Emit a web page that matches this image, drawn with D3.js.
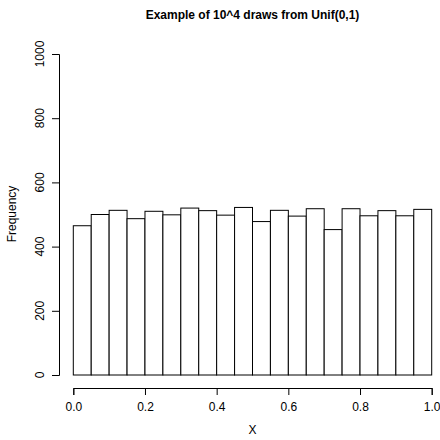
<!DOCTYPE html>
<html>
<head>
<meta charset="utf-8">
<script src="https://cdn.jsdelivr.net/npm/d3@7"></script>
<style>
body { margin: 0; background: #fff; }
svg text { font-family: "Liberation Sans", Arial, sans-serif; fill: #000; }
</style>
</head>
<body>
<svg id="chart" width="440" height="440"></svg>
<script>
// histogram of 10^4 uniform draws, 20 bins of width 0.05
var binStarts = [0, 0.05, 0.1, 0.15, 0.2, 0.25, 0.3, 0.35, 0.4, 0.45,
	0.5, 0.55, 0.6, 0.65, 0.7, 0.75, 0.8, 0.85, 0.9, 0.95];
var counts = [465, 500, 513, 487, 510, 499, 520, 512, 498, 522,
	478, 513, 495, 518, 453, 518, 496, 512, 496, 516];
var xTicks = [0, 0.2, 0.4, 0.6, 0.8, 1.0];
var yTicks = [0, 200, 400, 600, 800, 1000];
var binWidth = 0.05;

var svg = d3.select("#chart");

var x = d3.scaleLinear() // x limits for plot
	.domain([0, 1])
	.range([73.3, 431.7]);
var y = d3.scaleLinear()
	.domain([0, 1000])
	.range([375, 54]);

// bars
svg.append("g")
	.selectAll("rect")
	.data(counts)
	.enter().append("rect")
	.attr("x", function(d, i) { return x(binStarts[i]); })
	.attr("y", function(d) { return y(d); })
	.attr("width", function(d, i) { return x(binStarts[i] + binWidth) - x(binStarts[i]); })
	.attr("height", function(d) { return y(0) - y(d); })
	.attr("fill", "#fff")
	.attr("stroke", "#000")
	.attr("stroke-width", 1);

// x axis
var xAxis = d3.axisBottom(x)
	.tickValues(xTicks)
	.tickFormat(d3.format(".1f"))
	.tickSizeOuter(0)
	.tickSize(7)
	.tickPadding(7);
svg.append("g")
	.attr("class", "axis")
	.attr("transform", "translate(0,388)")
	.call(xAxis);

// y axis, labels rotated like base R
var yAxis = d3.axisLeft(y)
	.tickValues(yTicks)
	.tickSizeOuter(0)
	.tickSize(7)
	.tickFormat("");
svg.append("g")
	.attr("class", "axis")
	.attr("transform", "translate(59,0)")
	.call(yAxis);

svg.append("g")
	.selectAll("text")
	.data(yTicks)
	.enter().append("text")
	.attr("transform", function(d) { return "translate(44," + y(d) + ") rotate(-90)"; })
	.attr("text-anchor", "middle")
	.style("font-size", "12px")
	.text(function(d) { return d; });

svg.selectAll(".axis path, .axis line").attr("stroke", "#000");
svg.selectAll(".axis text").style("font-size", "12px").attr("fill", "#000");
svg.selectAll(".axis .domain").attr("stroke-width", 1);

// title and axis labels
svg.append("text")
	.attr("x", 252.5)
	.attr("y", 19)
	.attr("text-anchor", "middle")
	.style("font-size", "12px")
	.style("font-weight", "bold")
	.text("Example of 10^4 draws from Unif(0,1)");

svg.append("text")
	.attr("x", 252.5)
	.attr("y", 434)
	.attr("text-anchor", "middle")
	.style("font-size", "12px")
	.text("X");

svg.append("text")
	.attr("transform", "translate(16,214) rotate(-90)")
	.attr("text-anchor", "middle")
	.style("font-size", "12px")
	.text("Frequency");
</script>
</body>
</html>
